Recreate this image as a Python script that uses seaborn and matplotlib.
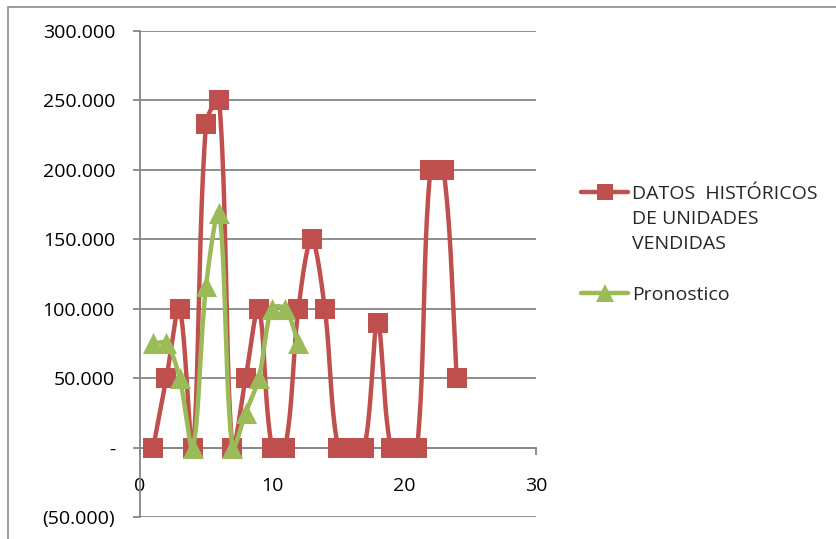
import numpy as np
import pandas as pd
import seaborn as sns
import matplotlib
matplotlib.use("Agg")
import matplotlib.pyplot as plt
from matplotlib.lines import Line2D
from matplotlib.patches import Rectangle

# Historical units sold, periods 1-24
hist_x = list(range(1, 25))
hist_y = [0, 50000, 100000, 0, 233000, 250000, 0, 50000, 100000, 0, 0, 100000,
          150000, 100000, 0, 0, 0, 90000, 0, 0, 0, 200000, 200000, 50000]

# Forecast, periods 1-12
fc_x = list(range(1, 13))
fc_y = [75000, 75000, 50000, 0, 116000, 169000, 0, 25000, 50000, 100000, 100000, 75000]

y_ticks = [-50000, 0, 50000, 100000, 150000, 200000, 250000, 300000]
y_tick_labels = ["(50.000)", "-", "50.000", "100.000", "150.000", "200.000", "250.000", "300.000"]
x_ticks = [0, 10, 20, 30]

series_names = ["DATOS  HISTÓRICOS\nDE UNIDADES\nVENDIDAS", "Pronostico"]

RED = "#C0504D"
GREEN = "#9BBB59"
GRID = "#868686"

FIG_W, FIG_H = 836, 539
AX_L, AX_R, AX_T, AX_B = 140, 536, 31, 517
XLIM = (0, 30)
YLIM = (-50000, 300000)
SX = (AX_R - AX_L) / (XLIM[1] - XLIM[0])
SY = (AX_B - AX_T) / (YLIM[1] - YLIM[0])


def smooth(xs, ys, n=40):
    """Bezier smoothing whose tangents are scaled by the on-screen chord lengths."""
    xs = np.asarray(xs, float)
    ys = np.asarray(ys, float)
    px = np.concatenate([[xs[0]], xs, [xs[-1]]])
    py = np.concatenate([[ys[0]], ys, [ys[-1]]])
    pts = np.column_stack([px, py])

    def dist(a, b):
        return np.hypot((a[0] - b[0]) * SX, (a[1] - b[1]) * SY)

    out_x, out_y = [], []
    t = np.linspace(0, 1, n)
    for i in range(1, len(pts) - 2):
        p0, p1, p2, p3 = pts[i - 1], pts[i], pts[i + 1], pts[i + 2]
        d01, d12, d23 = dist(p0, p1), dist(p1, p2), dist(p2, p3)
        f1 = d12 / (d01 + d12) if d01 + d12 > 0 else 0
        f2 = d12 / (d12 + d23) if d12 + d23 > 0 else 0
        c1 = p1 + (p2 - p0) * f1 / 3.0
        c2 = p2 - (p3 - p1) * f2 / 3.0
        b = ((1 - t) ** 3)[:, None] * p1 + (3 * (1 - t) ** 2 * t)[:, None] * c1 \
            + (3 * (1 - t) * t ** 2)[:, None] * c2 + (t ** 3)[:, None] * p2
        out_x.extend(b[:, 0])
        out_y.extend(b[:, 1])
    return pd.DataFrame({"x": out_x, "y": out_y})


sns.set_theme(style="white")
plt.rcParams["font.family"] = ["Open Sans", "DejaVu Sans"]
FS = 14

fig = plt.figure(figsize=(FIG_W / 100, FIG_H / 100), dpi=100)
ax = fig.add_axes([AX_L / FIG_W, 1 - AX_B / FIG_H, (AX_R - AX_L) / FIG_W, (AX_B - AX_T) / FIG_H])

# Chart frame
fig.patches.append(Rectangle((8 / FIG_W, -0.1), 1.2, 1 - 7 / FIG_H + 0.1,
                             transform=fig.transFigure, fill=False,
                             edgecolor="#8C8C8C", lw=1.2, zorder=0))

hist_df = pd.DataFrame({"x": hist_x, "y": hist_y})
fc_df = pd.DataFrame({"x": fc_x, "y": fc_y})

sns.lineplot(data=smooth(hist_x, hist_y), x="x", y="y", sort=False, estimator=None,
             color=RED, lw=3.2, ax=ax, zorder=3)
sns.scatterplot(data=hist_df, x="x", y="y", marker="s", s=190, color=RED,
                edgecolor=RED, linewidth=0, ax=ax, zorder=4)
sns.lineplot(data=smooth(fc_x, fc_y), x="x", y="y", sort=False, estimator=None,
             color=GREEN, lw=3.2, ax=ax, zorder=5)
sns.scatterplot(data=fc_df, x="x", y="y", marker="^", s=230, color=GREEN,
                edgecolor=GREEN, linewidth=0, ax=ax, zorder=6)

ax.set_xlim(*XLIM)
ax.set_ylim(*YLIM)
ax.set_xlabel("")
ax.set_ylabel("")

ax.set_yticks(y_ticks)
ax.set_yticklabels(y_tick_labels)
ax.set_xticks(x_ticks)
ax.set_xticklabels([str(v) for v in x_ticks])

ax.yaxis.grid(True, color=GRID, lw=1.3)
ax.xaxis.grid(False)
ax.set_axisbelow(True)

for side in ["top", "right"]:
    ax.spines[side].set_visible(False)
ax.spines["left"].set_color(GRID)
ax.spines["left"].set_linewidth(1.3)
ax.spines["bottom"].set_position(("data", 0))
ax.spines["bottom"].set_color(GRID)
ax.spines["bottom"].set_linewidth(1.3)

ax.tick_params(axis="y", direction="out", length=5, width=1.3, color=GRID,
               labelsize=FS, pad=13, left=True)
ax.tick_params(axis="x", direction="out", length=5, width=1.3, color=GRID,
               labelsize=FS, pad=16.5, bottom=True)
for lbl in ax.get_xticklabels() + ax.get_yticklabels():
    lbl.set_color("black")

# Legend, drawn in figure pixels: handle sits beside the first text line
legend_rows = [
    (192, RED, "s", 12, series_names[0]),
    (293, GREEN, "^", 13, series_names[1]),
]
for y_px, col, mk, ms, label in legend_rows:
    yf = 1 - y_px / FIG_H
    fig.add_artist(Line2D([581 / FIG_W, 628 / FIG_W], [yf, yf], color=col, lw=3.2,
                          transform=fig.transFigure))
    fig.add_artist(Line2D([604.5 / FIG_W], [yf], color=col, marker=mk, markersize=ms,
                          markeredgewidth=0, transform=fig.transFigure))
    fig.text(632 / FIG_W, yf + 7 / FIG_H, label, fontsize=FS, va="top", ha="left",
             linespacing=1.5)

fig.savefig("out.png", dpi=100)
